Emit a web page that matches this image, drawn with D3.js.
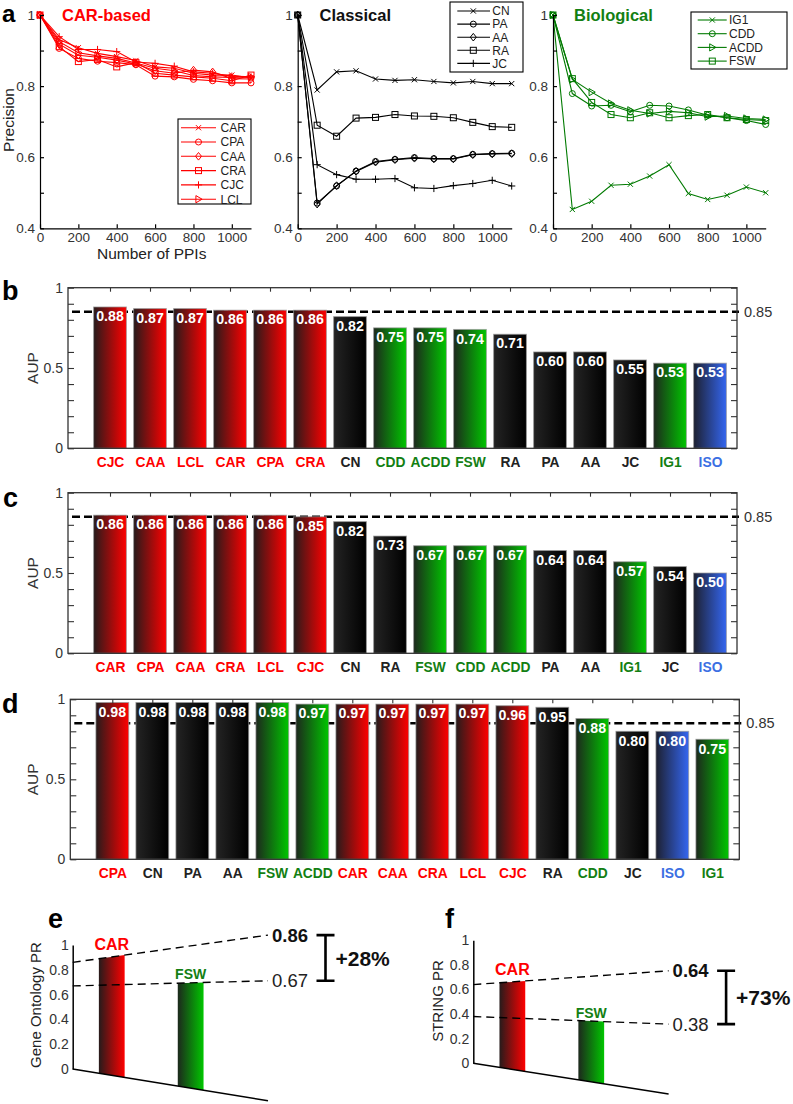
<!DOCTYPE html>
<html><head><meta charset="utf-8">
<script src="https://cdn.jsdelivr.net/npm/d3@7"></script>
<style>
body{margin:0;background:#fff}
svg{display:block}
text{font-family:"Liberation Sans",Arial,Helvetica,sans-serif}
</style></head>
<body><svg id="c" width="793" height="1104"></svg>
<script>
// ---------------- DATA ----------------
const ppi = [0,100,200,300,400,500,600,700,800,900,1000,1100];
// CAR-based
const carCAR = [1,.931,.908,.892,.883,.872,.854,.850,.836,.831,.831,.823];
const carCPA = [1,.906,.878,.870,.866,.860,.828,.826,.819,.815,.809,.809];
const carCAA = [1,.918,.887,.881,.873,.862,.843,.836,.845,.840,.821,.820];
const carCRA = [1,.911,.869,.875,.854,.866,.836,.831,.826,.822,.815,.831];
const carCJC = [1,.939,.903,.903,.897,.868,.864,.856,.840,.836,.828,.826];
const carLCL = [1,.925,.894,.885,.878,.865,.850,.843,.830,.826,.824,.826];
// Classical
const clsCN = [1,.789,.840,.843,.820,.816,.818,.813,.809,.813,.807,.807];
const clsPA = [1,.471,.519,.561,.588,.594,.599,.596,.596,.608,.610,.611];
const clsAA = [1,.468,.520,.560,.586,.593,.597,.595,.595,.607,.609,.610];
const clsRA = [1,.690,.659,.710,.712,.720,.716,.715,.711,.698,.686,.684];
const clsJC = [1,.579,.551,.538,.538,.540,.514,.512,.520,.526,.535,.519];
// Biological
const bioIG1  = [1,.453,.476,.521,.524,.547,.579,.498,.481,.493,.516,.500];
const bioCDD  = [1,.779,.744,.746,.728,.746,.744,.733,.718,.711,.703,.692];
const bioACDD = [1,.819,.783,.751,.732,.723,.729,.725,.714,.716,.709,.706];
const bioFSW  = [1,.821,.754,.720,.711,.725,.711,.717,.720,.711,.706,.703];

const panelATitles = ["CAR-based","Classical","Biological"];

// bar panels
const bCats = ["CJC","CAA","LCL","CAR","CPA","CRA","CN","CDD","ACDD","FSW","RA","PA","AA","JC","IG1","ISO"];
const bVals = [0.88,0.87,0.87,0.86,0.86,0.86,0.82,0.75,0.75,0.74,0.71,0.60,0.60,0.55,0.53,0.53];
const cCats = ["CAR","CPA","CAA","CRA","LCL","CJC","CN","RA","FSW","CDD","ACDD","PA","AA","IG1","JC","ISO"];
const cVals = [0.86,0.86,0.86,0.86,0.86,0.85,0.82,0.73,0.67,0.67,0.67,0.64,0.64,0.57,0.54,0.50];
const dCats = ["CPA","CN","PA","AA","FSW","ACDD","CAR","CAA","CRA","LCL","CJC","RA","CDD","JC","ISO","IG1"];
const dVals = [0.98,0.98,0.98,0.98,0.98,0.97,0.97,0.97,0.97,0.97,0.96,0.95,0.88,0.80,0.80,0.75];
const refLine = 0.85;

// e / f
const eCats = ["CAR","FSW"];
const eVals = [0.86,0.67];
const eGain = "+28%";
const fCats = ["CAR","FSW"];
const fVals = [0.64,0.38];
const fGain = "+73%";

// groups
const carBased = ["CAR","CPA","CAA","CRA","CJC","LCL"];
const classical = ["CN","PA","AA","RA","JC"];
const biological = ["IG1","CDD","ACDD","FSW"];

// ---------------- STYLE ----------------
const RED="#ff0000", GREEN_LINE="#007a00", GREEN_TXT="#137f13", BLUE_TXT="#3b6fe3", BLACK="#000";
const FONT="'Liberation Sans',Arial,sans-serif";
const MARK = {CAR:"x",CPA:"o",CAA:"d",CRA:"s",CJC:"+",LCL:">",CN:"x",PA:"o",AA:"d",RA:"s",JC:"+",IG1:"x",CDD:"o",ACDD:">",FSW:"s"};
function group(n){ return carBased.includes(n)?"red":classical.includes(n)?"black":biological.includes(n)?"green":"blue"; }
const txtCol = {red:RED, black:"#222", green:GREEN_TXT, blue:BLUE_TXT};
const gradId = {red:"gRed", black:"gBlack", green:"gGreen", blue:"gBlue"};

const svg = d3.select("#c");
const defs = svg.append("defs");
[["gRed","#261b1b","#ff0000"],["gBlack","#242424","#000000"],["gGreen","#1d281d","#00c600"],["gBlue","#1d2030","#3466f0"]].forEach(([id,a,b])=>{
  const lg = defs.append("linearGradient").attr("id",id).attr("x1","0").attr("x2","1").attr("y1","0").attr("y2","0");
  lg.append("stop").attr("offset","0").attr("stop-color",a);
  lg.append("stop").attr("offset","1").attr("stop-color",b);
});

function marker(g,t,cx,cy,col){
  const s=3;
  const st = sel => sel.attr("fill","none").attr("stroke",col).attr("stroke-width",1);
  if(t==="o") st(g.append("circle").attr("cx",cx).attr("cy",cy).attr("r",s));
  else if(t==="s") st(g.append("rect").attr("x",cx-s).attr("y",cy-s).attr("width",2*s).attr("height",2*s));
  else if(t==="d") st(g.append("path").attr("d",`M${cx},${cy-3.8}L${cx+3},${cy}L${cx},${cy+3.8}L${cx-3},${cy}Z`));
  else if(t===">") st(g.append("path").attr("d",`M${cx-2.6},${cy-3.6}L${cx+3.6},${cy}L${cx-2.6},${cy+3.6}Z`));
  else if(t==="+") st(g.append("path").attr("d",`M${cx-3.6},${cy}h7.2M${cx},${cy-3.6}v7.2`));
  else st(g.append("path").attr("d",`M${cx-2.6},${cy-2.6}l5.2,5.2M${cx-2.6},${cy+2.6}l5.2,-5.2`));
}

// ---------------- PANEL A ----------------
function linePanel(o){
  const x = d3.scaleLinear().domain([0,1100]).range([o.x0,o.x1]);
  const y = d3.scaleLinear().domain([0.4,1]).range([228.3,15]);
  const g = svg.append("g");
  o.series.forEach(s=>{
    g.append("path").datum(s.values)
      .attr("d", d3.line().x((d,j)=>x(ppi[j])).y(d=>y(d)))
      .attr("fill","none").attr("stroke",o.color).attr("stroke-width",1.1);
  });
  o.series.forEach(s=> s.values.forEach((d,j)=>marker(g,MARK[s.name],x(ppi[j]),y(d),o.color)));
  const yt = d3.range(4,11).map(d=>d/10);
  const ya = g.append("g").attr("transform",`translate(${o.x0},0)`)
    .call(d3.axisLeft(y).tickValues(yt).tickSizeInner(-4).tickSizeOuter(0).tickPadding(5)
      .tickFormat(d=> Math.round(d*10)%2===0 ? (d===1?"1":d.toFixed(1)) : ""));
  const xa = g.append("g").attr("transform",`translate(0,228.3)`)
    .call(d3.axisBottom(x).tickValues([0,200,400,600,800,1000]).tickSizeInner(-4).tickSizeOuter(0).tickPadding(4)
      .tickFormat(d3.format("d")));
  [ya,xa].forEach(a=>{
    a.selectAll("text").attr("font-size",13.5).attr("fill","#333").style("font-family",FONT);
    a.selectAll("line,path").attr("stroke","#000").attr("stroke-width",1.2);
  });
  // title
  g.append("text").attr("x",o.titleX).attr("y",21).attr("font-size",16.5).attr("font-weight","bold")
    .attr("fill",o.titleColor).text(o.title);
  // legend
  const L=o.legend;
  g.append("rect").attr("x",L.x).attr("y",L.y).attr("width",L.w).attr("height",L.h)
    .attr("fill","#fff").attr("stroke","#000").attr("stroke-width",1.1);
  o.series.forEach((s,i)=>{
    const ry = L.r0 + i*L.dr;
    g.append("line").attr("x1",L.x+L.l0).attr("x2",L.x+L.l1).attr("y1",ry).attr("y2",ry).attr("stroke",o.color).attr("stroke-width",1.1);
    marker(g,MARK[s.name],L.x+L.m,ry,o.color);
    g.append("text").attr("x",L.x+L.t).attr("y",ry).attr("dy","0.36em").attr("font-size",12).attr("fill","#222").text(s.name);
  });
}

linePanel({x0:40,x1:251,color:RED,title:panelATitles[0],titleColor:RED,titleX:62,
  series:[{name:"CAR",values:carCAR},{name:"CPA",values:carCPA},{name:"CAA",values:carCAA},{name:"CRA",values:carCRA},{name:"CJC",values:carCJC},{name:"LCL",values:carLCL}],
  legend:{x:178,y:119,w:73,h:85,r0:127.7,dr:14.3,l0:3,l1:38,m:20.5,t:42.5}});
linePanel({x0:297.7,x1:511.7,color:BLACK,title:panelATitles[1],titleColor:"#111",titleX:319.5,
  series:[{name:"CN",values:clsCN},{name:"PA",values:clsPA},{name:"AA",values:clsAA},{name:"RA",values:clsRA},{name:"JC",values:clsJC}],
  legend:{x:450,y:2,w:73,h:70,r0:11,dr:13.1,l0:7.3,l1:40,m:23.3,t:42.3}});
linePanel({x0:553,x1:765.7,color:GREEN_LINE,title:panelATitles[2],titleColor:GREEN_TXT,titleX:574,
  series:[{name:"IG1",values:bioIG1},{name:"CDD",values:bioCDD},{name:"ACDD",values:bioACDD},{name:"FSW",values:bioFSW}],
  legend:{x:691,y:12,w:96,h:57,r0:20,dr:13.7,l0:6.7,l1:35.7,m:21.3,t:38}});

svg.append("text").attr("transform","translate(14,120) rotate(-90)").attr("text-anchor","middle")
  .attr("font-size",15.5).attr("fill","#222").text("Precision");
svg.append("text").attr("x",151.7).attr("y",258.5).attr("text-anchor","middle")
  .attr("font-size",15.5).attr("fill","#222").text("Number of PPIs");

// ---------------- BAR PANELS ----------------
function barPanel(o){
  const x = d3.scaleLinear().domain([0,16]).range([o.x0, o.x0+640]);
  const y = d3.scaleLinear().domain([0,1]).range([o.y0, o.y1]);
  const g = svg.append("g");
  const bl = x(-0.05), br = x(16.675), bw = 0.82*(x(1)-x(0));
  // reference line (behind bars)
  g.append("line").attr("x1",bl+4).attr("x2",br+2).attr("y1",y(refLine)).attr("y2",y(refLine))
    .attr("stroke","#000").attr("stroke-width",2.6).attr("stroke-dasharray","8,4");
  // bars
  o.cats.forEach((c,i)=>{
    const v=o.vals[i], cx=x(i+1);
    g.append("rect").attr("x",cx-bw/2).attr("y",y(v)).attr("width",bw).attr("height",y(0)-y(v))
      .attr("fill",`url(#${gradId[group(c)]})`).attr("stroke","#9a9a9a").attr("stroke-opacity",0.7).attr("stroke-width",1);
    g.append("text").attr("x",cx).attr("y",y(v)+14.2).attr("text-anchor","middle")
      .attr("font-size",14.2).attr("font-weight","bold").attr("fill","#fff").text(v.toFixed(2));
  });
  // axes
  const tv = d3.range(0,11).map(d=>d/10);
  const la = g.append("g").attr("transform",`translate(${bl},0)`)
    .call(d3.axisLeft(y).tickValues(tv).tickSizeInner(-6).tickSizeOuter(0).tickPadding(5)
      .tickFormat(d=> d===0?"0": d===0.5?"0.5": d===1?"1":""));
  const ra = g.append("g").attr("transform",`translate(${br},0)`)
    .call(d3.axisRight(y).tickValues(tv).tickSizeInner(-6).tickSizeOuter(0).tickFormat(""));
  const rl = g.append("g").attr("transform",`translate(${br},0)`)
    .call(d3.axisRight(y).tickValues([refLine]).tickSize(0).tickPadding(7).tickFormat(d3.format(".2f")));
  const ta = g.append("g").attr("transform",`translate(0,${o.y1})`)
    .call(d3.axisTop(x).tickValues(d3.range(1,17)).tickSizeInner(-4).tickSizeOuter(0).tickFormat(""));
  const ba = g.append("g").attr("transform",`translate(0,${o.y0})`)
    .call(d3.axisBottom(x).tickValues(d3.range(1,17)).tickSize(0).tickPadding(9).tickFormat(i=>o.cats[i-1]));
  [la,ra,rl,ta,ba].forEach(a=>{ a.select(".domain").remove(); a.selectAll("line").attr("stroke","#333").attr("stroke-width",1.1); });
  la.selectAll("text").attr("font-size",14).attr("fill","#333").style("font-family",FONT);
  rl.selectAll("text").attr("font-size",14.5).attr("fill","#333").style("font-family",FONT);
  ba.selectAll("text").attr("font-size",13.8).attr("font-weight","bold")
    .style("font-family",FONT)
    .attr("fill",i=>txtCol[group(o.cats[i-1])]);
  g.append("rect").attr("x",bl).attr("y",o.y1).attr("width",br-bl).attr("height",o.y0-o.y1)
    .attr("fill","none").attr("stroke","#333").attr("stroke-width",1.3);
  g.append("text").attr("transform",`translate(${o.titleX},${(o.y0+o.y1)/2}) rotate(-90)`).attr("text-anchor","middle")
    .attr("font-size",15.5).attr("fill","#333").text("AUP");
}
barPanel({cats:bCats,vals:bVals,x0:70,y0:448.3,y1:287.7,titleX:38});
barPanel({cats:cCats,vals:cVals,x0:70,y0:653.3,y1:492.7,titleX:38});
barPanel({cats:dCats,vals:dVals,x0:72.3,y0:859.3,y1:699.3,titleX:38});

// ---------------- PERSPECTIVE PANELS ----------------
function perspPanel(o){
  const g = svg.append("g");
  const farX = o.axisX + 195.3;
  const yL = d3.scaleLinear().domain([0,1]).range([o.y0,o.y1]);
  const yF = d3.scaleLinear().domain([0,1]).range(o.far);
  const base = d3.scaleLinear().domain([o.axisX,farX]).range([o.y0,o.baseEnd]);
  const xp = d3.scaleLinear().domain([0,5]).range([o.axisX,farX]);
  const topAt = (v,px)=> d3.interpolateNumber(yL(v),yF(v))((px-o.axisX)/(farX-o.axisX));
  const hw = 0.33*(xp(1)-xp(0));
  const pos = [1,3.02];
  o.cats.forEach((c,i)=>{
    const v=o.vals[i], cx=xp(pos[i]), a=cx-hw, b=cx+hw;
    g.append("path").attr("d",`M${a},${base(a)}L${a},${topAt(v,a)}L${b},${topAt(v,b)}L${b},${base(b)}Z`)
      .attr("fill",`url(#${gradId[group(c)]})`);
    g.append("text").attr("x",cx).attr("y",topAt(v,cx)-(i===0?7:3.5)).attr("text-anchor","middle")
      .attr("font-size",i===0?16:14).attr("font-weight","bold").attr("fill",txtCol[group(c)]).text(c);
  });
  // baseline
  g.append("line").attr("x1",o.axisX).attr("y1",base(o.axisX)).attr("x2",farX).attr("y2",base(farX))
    .attr("stroke","#000").attr("stroke-width",1.5);
  // axis
  const ax = g.append("g").attr("transform",`translate(${o.axisX},0)`)
    .call(d3.axisLeft(yL).tickValues([0,0.2,0.4,0.6,0.8,1]).tickSize(0).tickPadding(4)
      .tickFormat(d=> d===0?"0": d===1?"1": d.toFixed(1)));
  ax.select(".domain").attr("stroke","#000").attr("stroke-width",1.5);
  ax.selectAll("text").attr("font-size",14).attr("fill","#333").style("font-family",FONT);
  // dashed lines and value labels
  o.vals.forEach((v,i)=>{
    g.append("line").attr("x1",o.axisX).attr("y1",yL(v)).attr("x2",farX).attr("y2",yF(v))
      .attr("stroke","#000").attr("stroke-width",1.4).attr("stroke-dasharray","8,5");
    g.append("text").attr("x",farX+4).attr("y",yF(v)).attr("dy","0.36em").attr("font-size",18.5)
      .attr("font-weight",i===0?"bold":"normal").attr("fill",i===0?"#111":"#222").text(v.toFixed(2));
  });
  // bracket
  const bx = farX+57.5, y1=yF(o.vals[0]), y2=yF(o.vals[1]);
  g.append("path").attr("d",`M${bx-9},${y1}h18M${bx},${y1}V${y2}M${bx-9},${y2}h18`)
    .attr("stroke","#000").attr("stroke-width",2.6).attr("fill","none");
  g.append("text").attr("x",bx+10).attr("y",(y1+y2)/2).attr("dy","0.36em").attr("font-size",21)
    .attr("font-weight","bold").attr("fill","#111").text(o.gain);
  g.append("text").attr("transform",`translate(${o.titleX},${o.titleY}) rotate(-90)`).attr("text-anchor","middle")
    .attr("dy","0.36em").attr("font-size",15).attr("fill","#222").text(o.title);
}
perspPanel({cats:eCats,vals:eVals,gain:eGain,axisX:72.7,y0:1069,y1:945,far:[1142,901.4],baseEnd:1100.7,
  title:"Gene Ontology PR",titleX:36,titleY:1005});
perspPanel({cats:fCats,vals:fVals,gain:fGain,axisX:473.3,y0:1063.3,y1:940.3,far:[1102,897],baseEnd:1094,
  title:"STRING PR",titleX:437.5,titleY:1001});

// ---------------- PANEL LETTERS ----------------
[["a",2,21.5,24],["b",2,300,27],["c",3,506.7,27],["d",2,713.3,27],["e",48,928.3,27],["f",445,928.3,27]].forEach(([t,x,y,fs])=>{
  svg.append("text").attr("x",x).attr("y",y).attr("font-size",fs).attr("font-weight","bold").attr("fill","#000").text(t);
});
</script>
</body></html>
